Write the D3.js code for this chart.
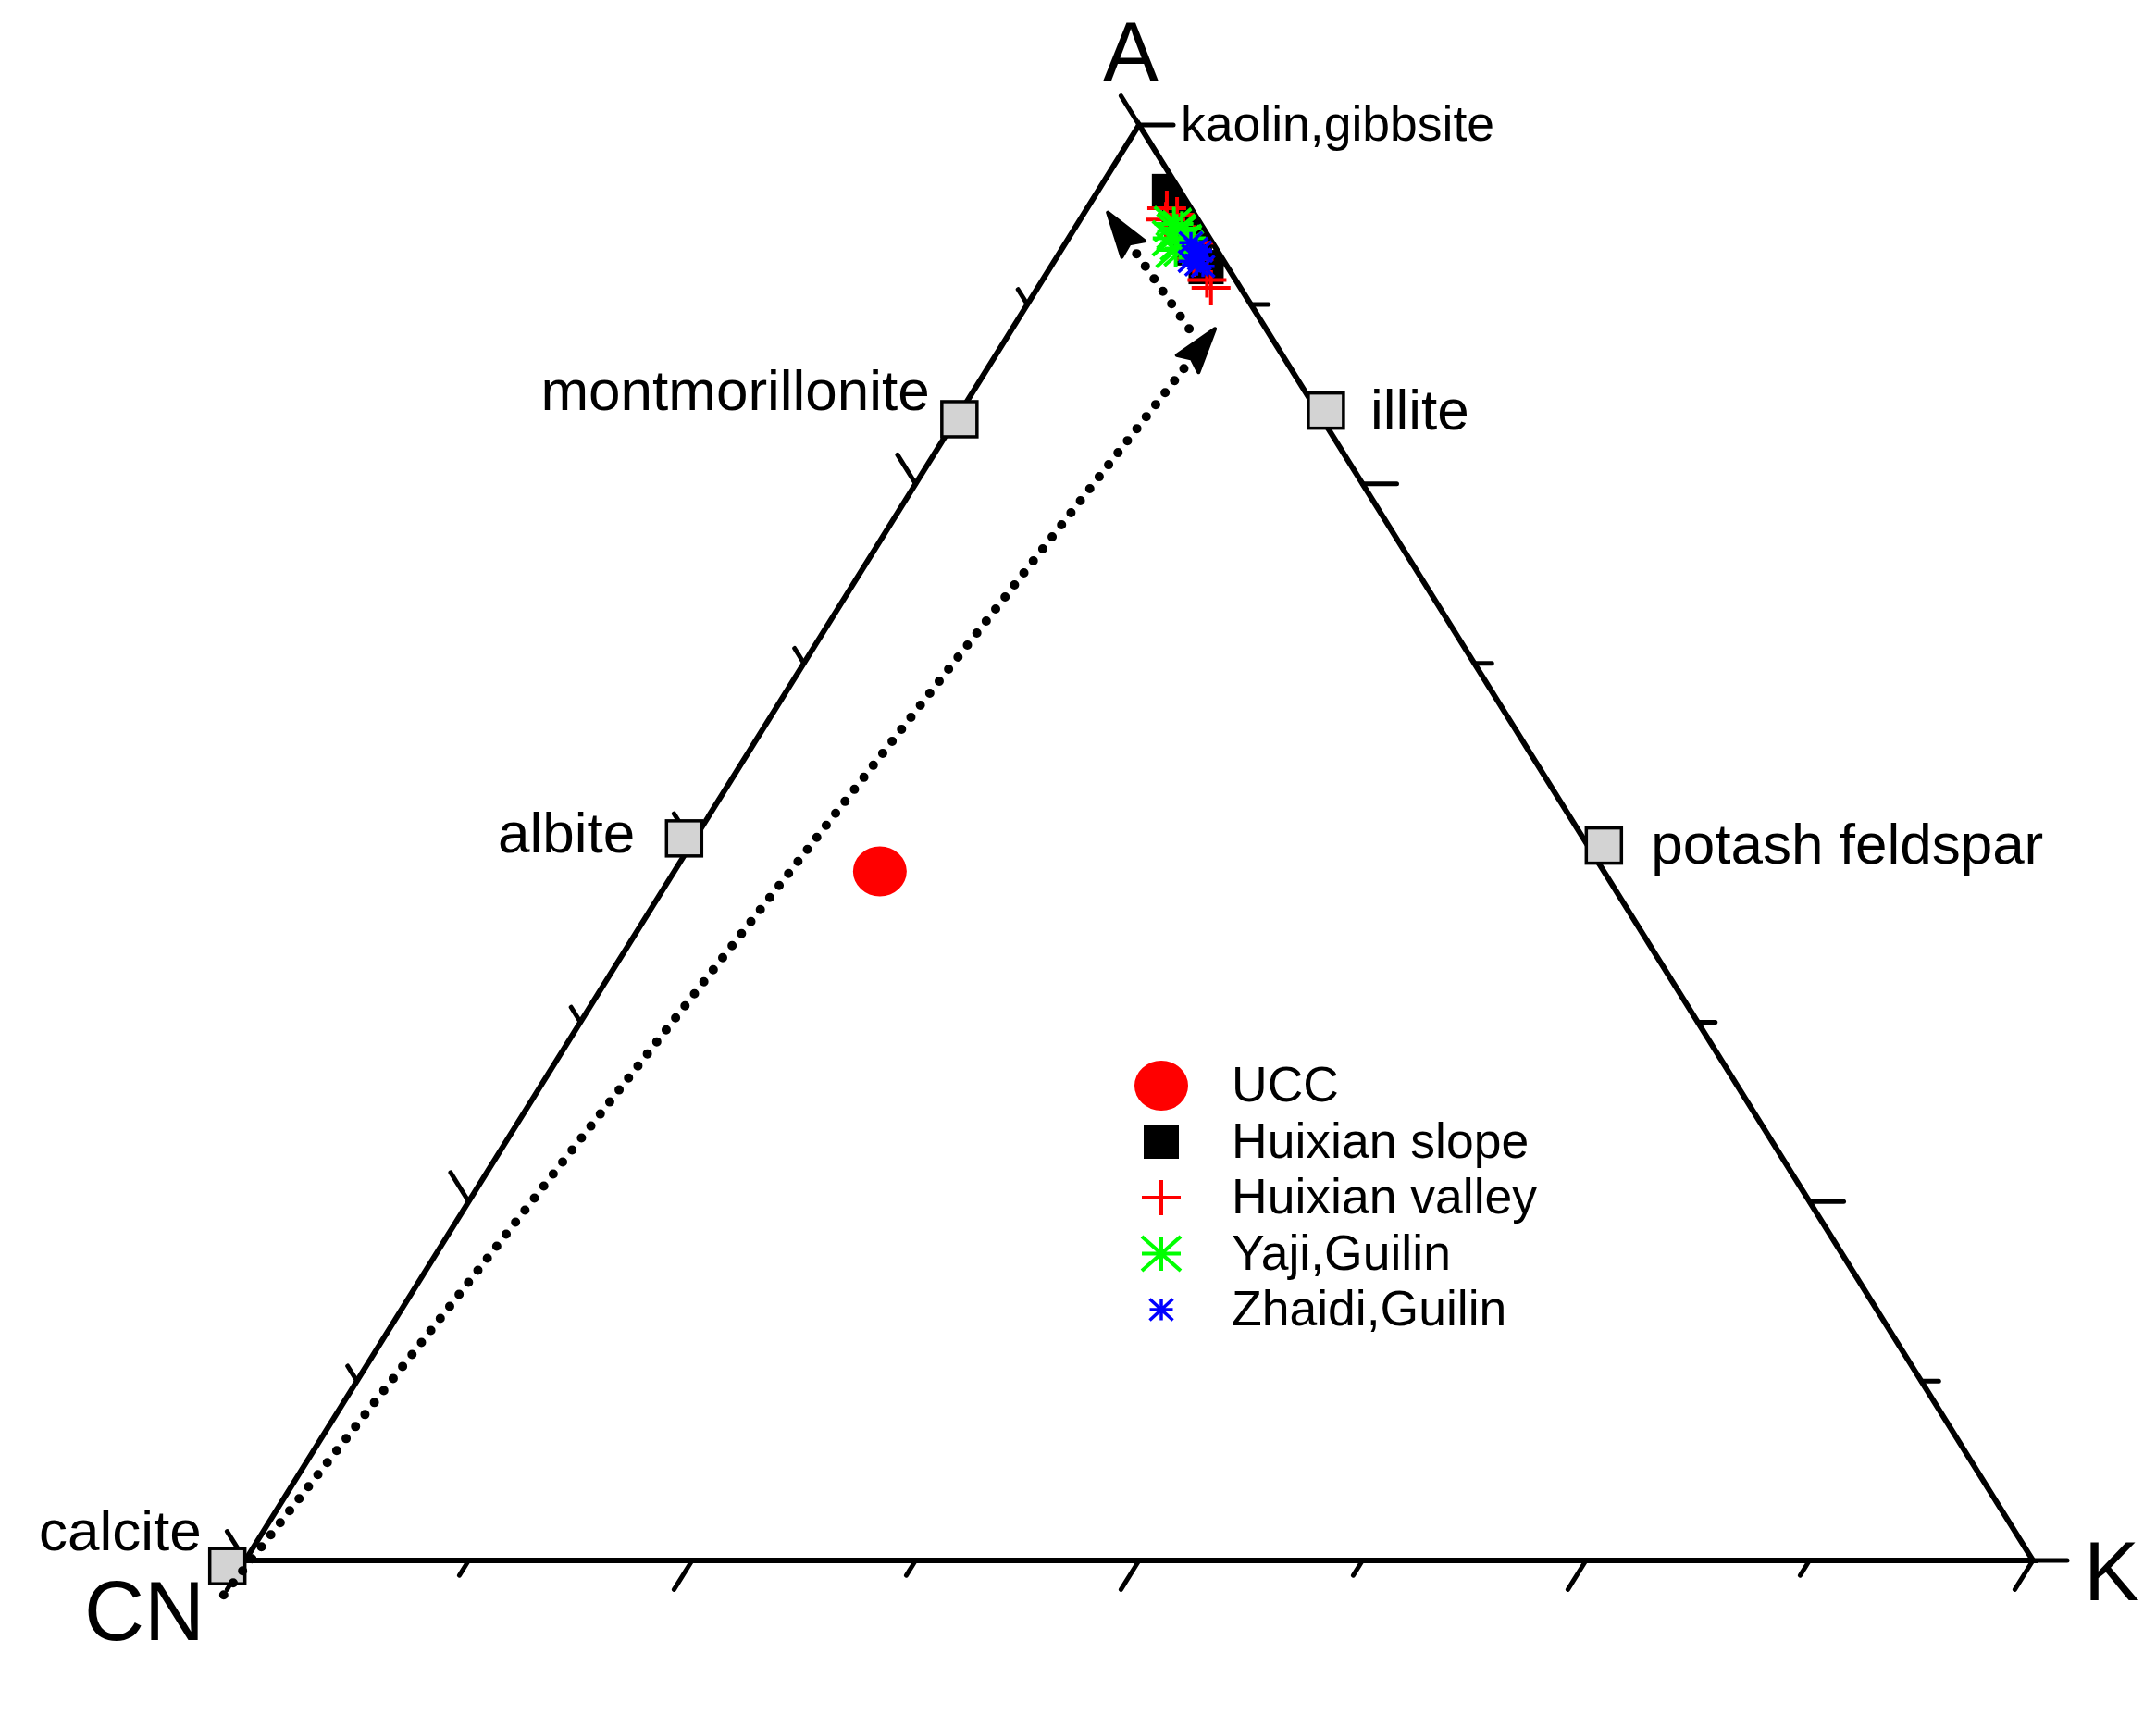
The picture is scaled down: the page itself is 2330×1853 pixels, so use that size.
<!DOCTYPE html>
<html><head><meta charset="utf-8">
<script src="https://cdn.jsdelivr.net/npm/d3@7"></script>
<style>html,body{margin:0;padding:0;background:#fff;} svg{display:block;}</style>
</head><body>
<svg id="chart" width="2330" height="1853"></svg>
<script>
// ---------- DATA (ternary compositions in %, order [A, CN, K]) ----------
const cornerLabels = ["A", "CN", "K"];
const tickFractions = [0, 0.125, 0.25, 0.375, 0.5, 0.625, 0.75, 0.875, 1];

const mineralNames = ["calcite", "albite", "montmorillonite", "illite", "potash feldspar", "kaolin,gibbsite"];
const mineralA  = [-0.4, 50.3, 79.5, 80.1, 49.8, 100];
const mineralCN = [101.2, 50.3, 20.3, -0.5, -0.9, 0];
const mineralK  = [-0.8, -0.6, 0.2, 20.4, 51.1, 0];
const mineralHasMarker = [true, true, true, true, true, false];

const ucc = [[48.0, 40.5, 11.5]];
const huixianSlope = [[95.4, 0.6, 4.0], [93.9, 0.8, 5.3], [92.6, 1.0, 6.4], [91.4, 1.2, 7.4], [90.1, 1.2, 8.7]];
const huixianValley = [[94.2, 1.35, 4.45], [93.4, 1.8, 4.8], [93.75, 1.0, 5.25], [91.8, 1.0, 7.2], [90.65, 1.6, 7.75], [89.2, 1.6, 9.2], [88.65, 1.65, 9.7]];
const yajiGuilin = [[93.1, 1.5, 5.4], [92.6, 1.6, 5.8], [92.8, 1.2, 6.0], [92.1, 2.1, 5.8], [91.8, 1.8, 6.4], [92.1, 1.3, 6.6], [91.4, 1.8, 6.8], [91.3, 2.3, 6.4]];
const zhaidiGuilin = [[91.8, 1.2, 7.0], [91.4, 1.1, 7.5], [90.9, 1.5, 7.6], [90.65, 1.3, 8.05], [91.2, 0.95, 7.85], [90.25, 1.65, 8.1], [90.15, 1.35, 8.5], [90.5, 1.9, 7.6]];

const legendLabels = ["UCC", "Huixian slope", "Huixian valley", "Yaji,Guilin", "Zhaidi,Guilin"];

// weathering trend arrows: [start, tip] as [A, CN, K]
const arrowLong  = [[-2.4, 102.4, 0.0], [85.8, 2.85, 11.35]];
const arrowShort = [[85.8, 4.3, 9.9], [93.9, 4.8, 1.3]];

// ---------- SCALES ----------
const svg = d3.select("#chart");
const xScale = d3.scaleLinear().domain([0, 1]).range([265, 2197]);
const yScale = d3.scaleLinear().domain([0, 1]).range([1686, 135]);
function proj(p) {
  const s = p[0] + p[1] + p[2];
  const A = p[0] / s, K = p[2] / s;
  return [xScale(K + A / 2), yScale(A)];
}
const FONT = "'Liberation Sans', Arial, Helvetica, sans-serif";

const PA = proj([100, 0, 0]), PCN = proj([0, 100, 0]), PK = proj([0, 0, 100]);
function unit(a, b) { const dx = b[0] - a[0], dy = b[1] - a[1], l = Math.hypot(dx, dy); return [dx / l, dy / l]; }

// ---------- TRIANGLE + TICKS ----------
const g = svg.append("g");
g.append("path")
  .attr("d", d3.line()([PCN, PA, PK]) + "Z")
  .attr("fill", "none").attr("stroke", "#000").attr("stroke-width", 6).attr("stroke-linejoin", "miter");

const edges = [
  { from: [0, 100, 0], to: [0, 0, 100], dir: unit(PA, PCN) },   // base: ticks parallel to A-CN, outward
  { from: [0, 100, 0], to: [100, 0, 0], dir: unit(PK, PA) },    // left: ticks parallel to K-A, outward
  { from: [100, 0, 0], to: [0, 0, 100], dir: unit(PCN, PK) }    // right: ticks parallel to CN-K
];
edges.forEach(e => {
  tickFractions.forEach((t, i) => {
    const p = proj(e.from.map((v, j) => v * (1 - t) + e.to[j] * t));
    const len = i % 2 === 0 ? 37 : 19;
    g.append("line")
      .attr("x1", p[0]).attr("y1", p[1])
      .attr("x2", p[0] + e.dir[0] * len).attr("y2", p[1] + e.dir[1] * len)
      .attr("stroke", "#000").attr("stroke-width", 5).attr("stroke-linecap", "round");
  });
});

// corner labels
g.append("text").text(cornerLabels[0]).attr("x", PA[0] - 9).attr("y", 87)
  .attr("text-anchor", "middle").attr("font-family", FONT).attr("font-size", 90);
g.append("text").text(cornerLabels[1]).attr("x", 221).attr("y", 1772)
  .attr("text-anchor", "end").attr("font-family", FONT).attr("font-size", 90);
g.append("text").text(cornerLabels[2]).attr("x", 2252).attr("y", 1729)
  .attr("text-anchor", "start").attr("font-family", FONT).attr("font-size", 90);

// ---------- MINERAL MARKERS ----------
const labelOffsets = [[-28, -17, "end", 62], [-53, 15, "end", 62], [-32, -10, "end", 62],
                      [48, 20, "start", 62], [51, 19, "start", 62], [45, 17, "start", 53.5]];
mineralNames.forEach((name, i) => {
  const p = proj([mineralA[i], mineralCN[i], mineralK[i]]);
  if (mineralHasMarker[i]) {
    g.append("rect").attr("x", p[0] - 19).attr("y", p[1] - 19).attr("width", 38).attr("height", 38)
      .attr("fill", "#d3d3d3").attr("stroke", "#000").attr("stroke-width", 3.5);
  }
  const o = labelOffsets[i];
  g.append("text").text(name).attr("x", p[0] + o[0]).attr("y", p[1] + o[1])
    .attr("text-anchor", o[2]).attr("font-family", FONT).attr("font-size", o[3]);
});

// ---------- MARKER SHAPES ----------
function drawMarker(sel, type, x, y) {
  if (type === "ucc") {
    sel.append("ellipse").attr("cx", x).attr("cy", y).attr("rx", 29).attr("ry", 27).attr("fill", "#ff0000");
  } else if (type === "square") {
    sel.append("rect").attr("x", x - 19).attr("y", y - 18.5).attr("width", 38).attr("height", 37).attr("fill", "#000");
  } else if (type === "plus") {
    sel.append("path").attr("d", `M${x - 21},${y}H${x + 21}M${x},${y - 19}V${y + 19}`)
      .attr("stroke", "#ff0000").attr("stroke-width", 4).attr("fill", "none");
  } else if (type === "star") {
    const w = 21, h = 18.5;
    sel.append("path").attr("d", `M${x - w},${y}H${x + w}M${x},${y - h}V${y + h}M${x - w},${y - h}L${x + w},${y + h}M${x - w},${y + h}L${x + w},${y - h}`)
      .attr("stroke", "#00ff00").attr("stroke-width", 4).attr("fill", "none");
  } else if (type === "smallstar") {
    const w = 12.5, h = 11.5;
    sel.append("path").attr("d", `M${x - w},${y}H${x + w}M${x},${y - h}V${y + h}M${x - w},${y - h}L${x + w},${y + h}M${x - w},${y + h}L${x + w},${y - h}`)
      .attr("stroke", "#0000ff").attr("stroke-width", 3.5).attr("fill", "none");
  }
}

// clip data to triangle
svg.append("defs").append("clipPath").attr("id", "tri")
  .append("path").attr("d", d3.line()([PCN, PA, PK]) + "Z");

const dataG = svg.append("g").attr("clip-path", "url(#tri)");
const seriesList = [
  { data: ucc, type: "ucc" },
  { data: huixianSlope, type: "square" },
  { data: huixianValley, type: "plus" },
  { data: yajiGuilin, type: "star" },
  { data: zhaidiGuilin, type: "smallstar" }
];
seriesList.forEach(s => s.data.forEach(d => { const p = proj(d); drawMarker(dataG, s.type, p[0], p[1]); }));

// ---------- ARROWS (dotted) ----------
function arrow(pts) {
  const s = proj(pts[0]), t = proj(pts[1]);
  const u = unit(s, t), L = 48, hw = 15, notch = 7;
  const base = [t[0] - u[0] * L, t[1] - u[1] * L];
  svg.append("line").attr("x1", s[0]).attr("y1", s[1]).attr("x2", base[0] + u[0] * 4).attr("y2", base[1] + u[1] * 4)
    .attr("stroke", "#000").attr("stroke-width", 10).attr("stroke-linecap", "round").attr("stroke-dasharray", "0 16.5");
  const n = [-u[1], u[0]];
  const pts2 = [t, [base[0] + n[0] * hw, base[1] + n[1] * hw], [base[0] + u[0] * notch, base[1] + u[1] * notch], [base[0] - n[0] * hw, base[1] - n[1] * hw]];
  svg.append("path").attr("d", d3.line()(pts2) + "Z").attr("fill", "#000").attr("stroke", "#000").attr("stroke-width", 4).attr("stroke-linejoin", "round");
}
arrow(arrowLong);
arrow(arrowShort);

// ---------- LEGEND ----------
const legendTypes = ["ucc", "square", "plus", "star", "smallstar"];
const legendG = svg.append("g");
const rowY = d3.scaleLinear().domain([0, 4]).range([1190, 1432]);
legendLabels.forEach((lab, i) => {
  drawMarker(legendG, legendTypes[i], 1255, rowY(i) - 17);
  legendG.append("text").text(lab).attr("x", 1331).attr("y", rowY(i))
    .attr("font-family", FONT).attr("font-size", 53.5);
});
</script>
</body></html>
